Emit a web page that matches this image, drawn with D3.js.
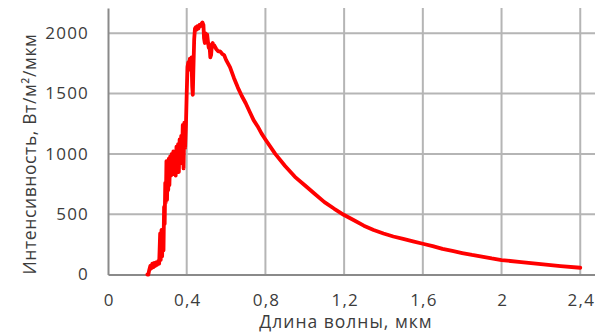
<!DOCTYPE html>
<html><head><meta charset="utf-8">
<script src="https://cdn.jsdelivr.net/npm/d3@7"></script>
<style>
html,body{margin:0;padding:0;background:#fff;}
svg{display:block;}
text{font-family:"Open Sans",sans-serif;fill:#3c3c3c;}
</style></head>
<body>
<svg id="c" width="595" height="336"></svg>
<script>
const wavelength = [0.200,0.205,0.210,0.215,0.220,0.225,0.230,0.235,0.240,0.245,0.250,0.255,0.260,0.265,0.268,0.272,0.275,0.278,0.282,0.285,0.288,0.291,0.294,0.297,0.300,0.303,0.306,0.309,0.312,0.316,0.320,0.324,0.328,0.332,0.336,0.340,0.344,0.348,0.352,0.356,0.360,0.364,0.368,0.372,0.376,0.380,0.384,0.388,0.392,0.396,0.400,0.404,0.408,0.412,0.416,0.420,0.424,0.428,0.431,0.434,0.438,0.442,0.446,0.450,0.455,0.460,0.465,0.470,0.475,0.480,0.485,0.488,0.492,0.496,0.500,0.504,0.508,0.512,0.516,0.520,0.524,0.528,0.532,0.536,0.540,0.550,0.560,0.570,0.580,0.590,0.600,0.620,0.640,0.660,0.680,0.700,0.720,0.740,0.760,0.780,0.800,0.850,0.900,0.950,1.000,1.050,1.100,1.150,1.200,1.250,1.300,1.350,1.400,1.450,1.500,1.550,1.600,1.650,1.700,1.750,1.800,1.850,1.900,1.950,2.000,2.100,2.200,2.300,2.400];
const intensity = [0,0,40,70,50,90,60,95,70,100,80,110,90,340,120,370,150,360,200,560,420,760,600,940,620,900,700,960,740,980,820,1000,830,1020,860,990,820,1060,900,1080,850,1120,920,1150,960,1240,880,1260,1050,1230,1500,1720,1760,1700,1790,1740,1800,1560,1490,1700,1950,2040,2050,2030,2060,2040,2070,2060,2080,2090,2070,1960,1920,2000,1960,1990,1930,1880,1900,1800,1820,1910,1920,1890,1900,1870,1850,1850,1830,1820,1780,1720,1630,1550,1480,1420,1350,1280,1230,1170,1120,1000,900,810,740,670,600,545,493,450,405,369,340,315,295,275,255,235,212,195,178,162,148,133,120,102,86,70,56];
const xTicks = [0,0.4,0.8,1.2,1.6,2,2.4];
const yTicks = [0,500,1000,1500,2000];
const xTitle = "Длина волны, мкм";
const yTitle = "Интенсивность, Вт/м²/мкм";

const L = 108, R = 595, T = 8, B = 274.5;
const svg = d3.select("#c");
const x = d3.scaleLinear().domain([0, 2.475]).range([L, R]);
const y = d3.scaleLinear().domain([0, 2210]).range([B, T]);
const fmt = v => String(v).replace(".", ",");

// vertical gridlines
svg.append("g").selectAll("line").data(xTicks.slice(1)).join("line")
  .attr("x1", d => x(d)).attr("x2", d => x(d)).attr("y1", T).attr("y2", B)
  .attr("stroke", "#b5b5b5").attr("stroke-width", 2);
// horizontal gridlines
svg.append("g").selectAll("line").data(yTicks.slice(1)).join("line")
  .attr("x1", L).attr("x2", R).attr("y1", d => y(d)).attr("y2", d => y(d))
  .attr("stroke", "#b5b5b5").attr("stroke-width", 2);

// axes
const xAxis = svg.append("g").attr("transform", `translate(0,${B})`)
  .call(d3.axisBottom(x).tickValues(xTicks).tickSize(0).tickPadding(19).tickFormat(fmt));
xAxis.select(".domain").attr("stroke", "#8a8a8a").attr("stroke-width", 2);
xAxis.selectAll("text").attr("font-size", 17).attr("fill", "#3c3c3c")
  .attr("font-family", "Open Sans").attr("letter-spacing", 1.2).attr("dx", 0.6);

const yAxis = svg.append("g").attr("transform", `translate(${L},0)`)
  .call(d3.axisLeft(y).tickValues(yTicks).tickSize(0).tickPadding(19).tickFormat(d3.format("d")));
yAxis.select(".domain").attr("stroke", "#8a8a8a").attr("stroke-width", 2);
yAxis.selectAll("text").attr("font-size", 17).attr("fill", "#3c3c3c")
  .attr("font-family", "Open Sans").attr("letter-spacing", 1.2).attr("dy", "0.3em");

// data line
const data = wavelength.map((w, i) => [w, intensity[i]]);
svg.append("path").datum(data)
  .attr("fill", "none").attr("stroke", "#ff0000").attr("stroke-width", 3.8)
  .attr("stroke-linejoin", "round").attr("stroke-linecap", "round")
  .attr("d", d3.line().x(d => x(d[0])).y(d => y(d[1])));

// titles
svg.append("text").attr("x", 346).attr("y", 328).attr("text-anchor", "middle")
  .attr("font-size", 17.5).attr("letter-spacing", 1).text(xTitle);
svg.append("text").attr("transform", "translate(36,154) rotate(-90)").attr("text-anchor", "middle")
  .attr("font-size", 17.5).attr("letter-spacing", 0.6).text(yTitle);
</script>
</body></html>
